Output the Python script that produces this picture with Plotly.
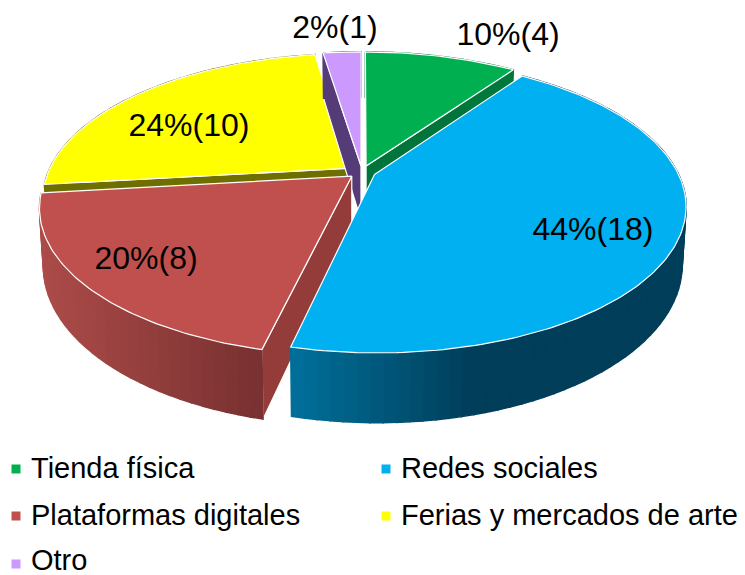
import math
import plotly.graph_objects as go

# --- data ---
categories = ["Tienda física", "Redes sociales", "Plataformas digitales", "Ferias y mercados de arte", "Otro"]
values = [4, 18, 8, 10, 1]

# --- style ---
top_colors = ["#00B050", "#00B0F0", "#C0504D", "#FFFF00", "#CC99FF"]
side_colors = ["#00743A", "#00607F", "#943C3A", "#6F6F00", "#553C78"]
rim_left = [(0, 120, 60), (0, 112, 155), (172, 76, 73), (110, 110, 0), (85, 60, 120)]
rim_right = [(0, 120, 60), (0, 62, 90), (120, 48, 48), (110, 110, 0), (85, 60, 120)]
label_xy = [(508, 37), (593, 232), (146, 261), (189, 128), (335, 30)]
marker_xy = [(16, 469), (386, 469), (16, 516), (386, 516), (16, 564)]
text_xy = [(31, 471), (401, 471), (31, 518), (401, 518), (31, 563)]
draw_order = [0, 3, 4, 2, 1]

CX, CY, A, B, K = 362, 172, 303, 140, 0.208
EXPLODE, DEPTH, TAPER = 0.045, 55, 0.012
LABEL_SIZE, LEGEND_SIZE = 32, 29
FONT = "Liberation Sans"


def project(u, v, z=0.0):
    w = 1 - K * v
    return CX + A * u * (1 - TAPER * z) / w, CY + (B * v + DEPTH * z) / w


total = sum(values)
edges = [0.0]
for val in values:
    edges.append(edges[-1] + 360 * val / total)

fig = go.Figure()


def poly(pts, fill, line="rgba(0,0,0,0)", width=0.0):
    xs = [p[0] for p in pts] + [pts[0][0]]
    ys = [p[1] for p in pts] + [pts[0][1]]
    fig.add_trace(go.Scatter(x=xs, y=ys, mode="lines", fill="toself", fillcolor=fill,
                             line=dict(color=line, width=width), hoverinfo="skip", showlegend=False))


for i in draw_order:
    a0, a1 = edges[i], edges[i + 1]
    mid = math.radians((a0 + a1) / 2)
    ox, oy = EXPLODE * math.sin(mid), -EXPLODE * math.cos(mid)

    def rim(deg, z=0.0):
        t = math.radians(deg)
        return project(ox + math.sin(t), oy - math.cos(t), z)

    apex, apex_low = project(ox, oy), project(ox, oy, 1)
    # radial walls: only those whose outward side faces the viewer
    for deg, normal in ((a0, a0 - 90), (a1, a1 + 90)):
        if -math.cos(math.radians(normal)) > 0.01:
            poly([apex, rim(deg), rim(deg, 1), apex_low], side_colors[i], "white", 1.2)
    # curved outer wall, shaded along the arc
    n = max(2, int((a1 - a0) / 2))
    xs_span = [rim(a0 + (a1 - a0) * j / n)[0] for j in range(n + 1)]
    lo, hi = min(xs_span), max(xs_span)
    for j in range(n):
        d0 = a0 + (a1 - a0) * j / n
        d1 = a0 + (a1 - a0) * (j + 1) / n
        f = ((rim((d0 + d1) / 2)[0] - lo) / (hi - lo)) if hi > lo else 0
        if i == 1:  # the long wall darkens quickly, then stays dark
            f = min(1.0, f * 2.2)
        c = tuple(round(rim_left[i][k] + (rim_right[i][k] - rim_left[i][k]) * f) for k in range(3))
        col = f"rgb({c[0]},{c[1]},{c[2]})"
        poly([rim(d0), rim(d1), rim(d1, 1), rim(d0, 1)], col, col, 1.5)
    # top face
    steps = max(4, int(a1 - a0))
    arc = [rim(a0 + (a1 - a0) * j / steps) for j in range(steps + 1)]
    poly([apex] + arc, top_colors[i], "white", 1.2)

# percentage labels
fig.add_trace(go.Scatter(
    x=[p[0] for p in label_xy], y=[p[1] for p in label_xy], mode="text",
    text=[f"{round(100 * val / total)}%({val})" for val in values], cliponaxis=False,
    textposition="middle center", textfont=dict(family=FONT, size=LABEL_SIZE, color="black"),
    hoverinfo="skip", showlegend=False))

# legend
fig.add_trace(go.Scatter(
    x=[p[0] for p in marker_xy], y=[p[1] for p in marker_xy], mode="markers",
    marker=dict(symbol="square", size=9, color=top_colors, line=dict(width=0)),
    hoverinfo="skip", showlegend=False))
fig.add_trace(go.Scatter(
    x=[p[0] for p in text_xy], y=[p[1] for p in text_xy], mode="text",
    text=categories, textposition="middle right", cliponaxis=False,
    textfont=dict(family=FONT, size=LEGEND_SIZE, color="black"),
    hoverinfo="skip", showlegend=False))

fig.update_layout(
    width=745, height=575, margin=dict(l=0, r=0, t=0, b=0),
    paper_bgcolor="white", plot_bgcolor="white",
    xaxis=dict(range=[0, 745], visible=False, fixedrange=True),
    yaxis=dict(range=[575, 0], visible=False, fixedrange=True),
)
fig.write_html("out.html", config={"displayModeBar": False},
               post_script="document.body.style.margin='0';document.body.style.overflow='hidden';")
